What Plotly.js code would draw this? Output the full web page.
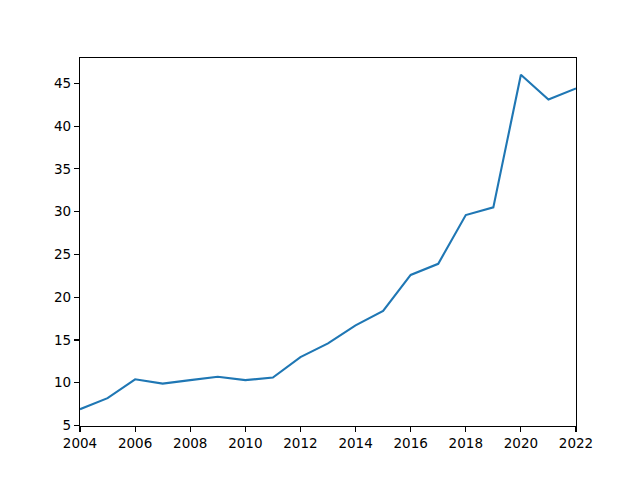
<!DOCTYPE html>
<html>
<head>
<meta charset="utf-8">
<script src="https://cdn.plot.ly/plotly-3.0.1.min.js"></script>
<style>
  html, body { margin: 0; padding: 0; background: #fff; }
  #chart { width: 640px; height: 480px; }
</style>
</head>
<body>
<div id="chart"></div>
<script>
// years and values
const years = [2004, 2005, 2006, 2007, 2008, 2009, 2010, 2011, 2012, 2013,
  2014, 2015, 2016, 2017, 2018, 2019, 2020, 2021, 2022];
const values = [6.9, 8.2, 10.4, 9.9, 10.3, 10.7, 10.3, 10.6, 13.0, 14.6,
  16.7, 18.4, 22.6, 23.9, 29.6, 30.5, 46.0, 43.1, 44.4];

const axisStyle = {
  showline: true,
  linecolor: '#000',
  linewidth: 1.1,
  mirror: true,
  ticks: 'outside',
  ticklen: 5,
  tickwidth: 1.1,
  tickcolor: '#000',
  showgrid: false,
  zeroline: false,
  tickfont: { family: 'DejaVu Sans', size: 13.5, color: '#000' },
};

const trace = {
  x: years,
  y: values,
  type: 'scatter',
  mode: 'lines',
  line: { color: '#1f77b4', width: 2.1 },
  hoverinfo: 'skip',
};

const layout = {
  width: 640,
  height: 480,
  margin: { l: 80, r: 64, t: 58, b: 54 },
  paper_bgcolor: '#fff',
  plot_bgcolor: '#fff',
  showlegend: false,
  xaxis: Object.assign({}, axisStyle, {
    range: [2004, 2022],
    tick0: 2004,
    dtick: 2,
  }),
  yaxis: Object.assign({}, axisStyle, {
    range: [4.94, 47.96],
    tick0: 5,
    dtick: 5,
  }),
};

Plotly.newPlot('chart', [trace], layout, { staticPlot: true });
</script>
</body>
</html>
